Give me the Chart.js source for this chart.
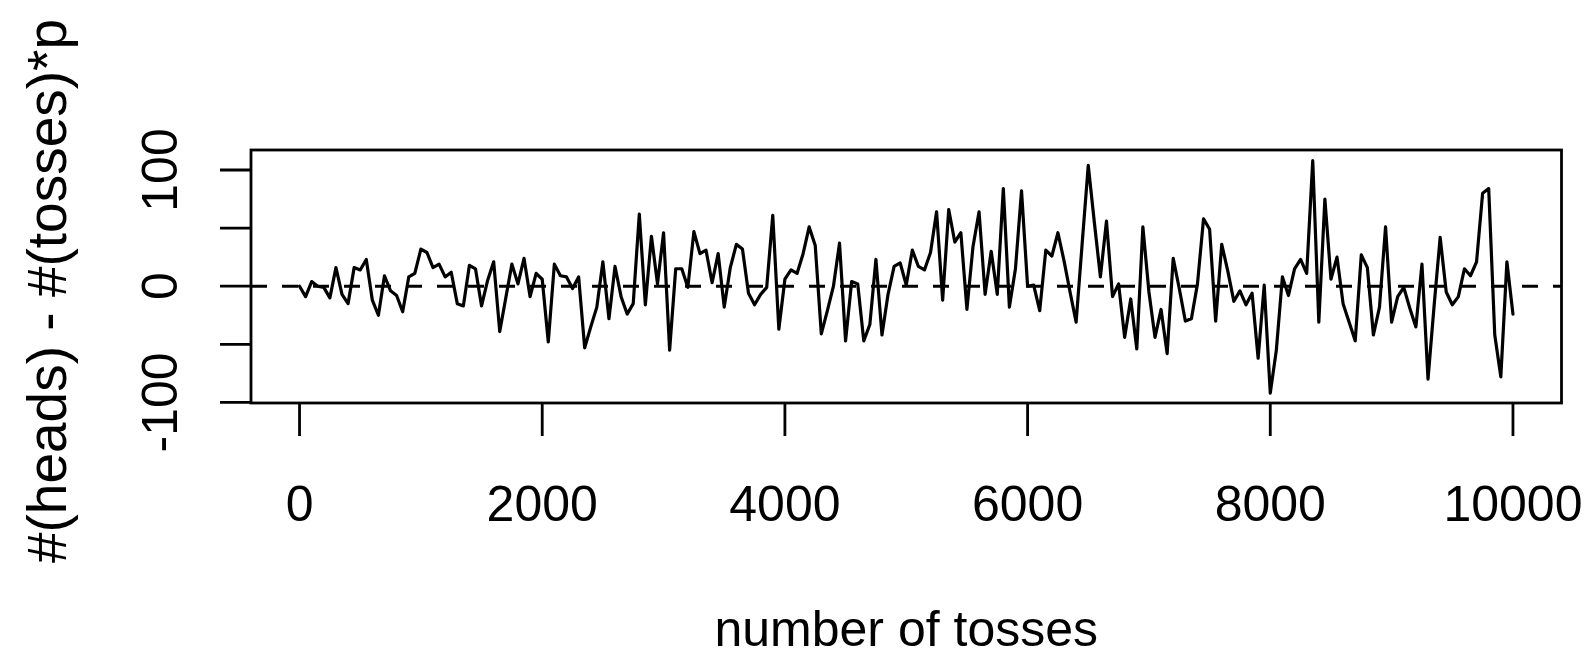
<!DOCTYPE html>
<html>
<head>
<meta charset="utf-8">
<script src="https://cdn.jsdelivr.net/npm/chart.js"></script>
<style>
  html, body { margin: 0; padding: 0; background: #fff; }
  canvas { display: block; }
</style>
</head>
<body>
<canvas id="tossChart" width="1593" height="655"></canvas>
<script>
// number of tosses (sampled every 50)
const tosses = [
  0, 50, 100, 150, 200, 250, 300, 350, 400, 450, 500, 550, 600, 650, 700, 750, 800, 850, 900, 950,
  1000, 1050, 1100, 1150, 1200, 1250, 1300, 1350, 1400, 1450, 1500, 1550, 1600, 1650, 1700, 1750, 1800, 1850, 1900, 1950,
  2000, 2050, 2100, 2150, 2200, 2250, 2300, 2350, 2400, 2450, 2500, 2550, 2600, 2650, 2700, 2750, 2800, 2850, 2900, 2950,
  3000, 3050, 3100, 3150, 3200, 3250, 3300, 3350, 3400, 3450, 3500, 3550, 3600, 3650, 3700, 3750, 3800, 3850, 3900, 3950,
  4000, 4050, 4100, 4150, 4200, 4250, 4300, 4350, 4400, 4450, 4500, 4550, 4600, 4650, 4700, 4750, 4800, 4850, 4900, 4950,
  5000, 5050, 5100, 5150, 5200, 5250, 5300, 5350, 5400, 5450, 5500, 5550, 5600, 5650, 5700, 5750, 5800, 5850, 5900, 5950,
  6000, 6050, 6100, 6150, 6200, 6250, 6300, 6350, 6400, 6450, 6500, 6550, 6600, 6650, 6700, 6750, 6800, 6850, 6900, 6950,
  7000, 7050, 7100, 7150, 7200, 7250, 7300, 7350, 7400, 7450, 7500, 7550, 7600, 7650, 7700, 7750, 7800, 7850, 7900, 7950,
  8000, 8050, 8100, 8150, 8200, 8250, 8300, 8350, 8400, 8450, 8500, 8550, 8600, 8650, 8700, 8750, 8800, 8850, 8900, 8950,
  9000, 9050, 9100, 9150, 9200, 9250, 9300, 9350, 9400, 9450, 9500, 9550, 9600, 9650, 9700, 9750, 9800, 9850, 9900, 9950,
  10000
];

// #(heads) - #(tosses)*p
const headsDiff = [
  0, -9, 4, 0, -1, -10, 16, -7, -15, 16,
  14, 23, -12, -25, 9, -4, -8, -22, 8, 11,
  32, 29, 16, 19, 8, 12, -15, -17, 18, 15,
  -17, 5, 21, -39, -10, 19, 2, 24, -9, 11,
  6, -48, 19, 9, 8, -2, 8, -53, -35, -18,
  21, -28, 17, -9, -24, -15, 62, -16, 43, 2,
  46, -55, 15, 15, -1, 47, 28, 31, 3, 28,
  -18, 16, 36, 32, -6, -16, -7, -1, 61, -37,
  6, 14, 11, 28, 51, 35, -41, -21, 0, 37,
  -47, 4, 2, -47, -33, 23, -42, -7, 17, 20,
  1, 31, 17, 14, 29, 64, -12, 66, 38, 46,
  -20, 34, 64, -7, 30, -7, 84, -18, 15, 82,
  0, 1, -21, 31, 26, 46, 22, -5, -31, 37,
  104, 55, 8, 56, -9, 2, -44, -11, -54, 51,
  -5, -44, -20, -58, 24, -2, -30, -28, 2, 58,
  49, -30, 36, 13, -13, -4, -16, -6, -62, 1,
  -92, -55, 8, -8, 15, 23, 11, 108, -31, 75,
  6, 25, -15, -31, -47, 27, 16, -42, -18, 51,
  -31, -9, -1, -19, -35, 19, -80, -17, 42, -5,
  -16, -9, 15, 9, 21, 80, 84, -42, -78, 21,
  -24
];

// axis ticks and labels
const xTicks = [0, 2000, 4000, 6000, 8000, 10000];
const yTicks = [-100, -50, 0, 50, 100];
const yLabelTicks = [-100, 0, 100];
const xMin = -400, xMax = 10400;
const yMin = -100.5, yMax = 117.2;
const refLine = [0, 0]; // dashed horizontal line at 0

const FAMILY = '"Liberation Sans", Arial, Helvetica, sans-serif';

// draws the R-style box, ticks, tick labels and axis titles
const rAxesPlugin = {
    id: 'rAxes',
    afterDraw: function (chart) {
        const ctx = chart.ctx;
        const a = chart.chartArea;
        const x = chart.scales.x;
        const y = chart.scales.y;
        ctx.save();
        ctx.strokeStyle = '#000';
        ctx.lineWidth = 2.8;
        ctx.strokeRect(a.left, a.top, a.right - a.left, a.bottom - a.top);

        ctx.beginPath();
        xTicks.forEach(function (v) {
            const px = x.getPixelForValue(v);
            ctx.moveTo(px, a.bottom);
            ctx.lineTo(px, a.bottom + 33);
        });
        yTicks.forEach(function (v) {
            const py = y.getPixelForValue(v);
            ctx.moveTo(a.left, py);
            ctx.lineTo(a.left - 31, py);
        });
        ctx.stroke();

        ctx.fillStyle = '#000';
        ctx.font = '50px ' + FAMILY;
        ctx.textAlign = 'center';
        ctx.textBaseline = 'alphabetic';
        xTicks.forEach(function (v) {
            ctx.fillText(String(v), x.getPixelForValue(v), a.bottom + 118);
        });
        ctx.fillText('number of tosses', (a.left + a.right) / 2, a.bottom + 243);

        yLabelTicks.forEach(function (v) {
            ctx.save();
            ctx.translate(a.left - 74, y.getPixelForValue(v));
            ctx.rotate(-Math.PI / 2);
            ctx.fillText(String(v), 0, 0);
            ctx.restore();
        });

        ctx.save();
        ctx.font = '55px ' + FAMILY;
        ctx.translate(66, 291);
        ctx.rotate(-Math.PI / 2);
        ctx.fillText('#(heads) - #(tosses)*p', 0, 0);
        ctx.restore();

        ctx.restore();
    }
};

const ctx = document.getElementById('tossChart').getContext('2d');
const tossChart = new Chart(ctx, {
    type: 'line',
    data: {
        datasets: [{
            data: tosses.map(function (t, i) { return { x: t, y: headsDiff[i] }; }),
            borderColor: '#000',
            borderWidth: 3.2,
            borderJoinStyle: 'round',
            borderCapStyle: 'round',
            pointRadius: 0,
            tension: 0,
            fill: false
        }, {
            data: [{ x: xMin, y: refLine[0] }, { x: xMax, y: refLine[1] }],
            borderColor: '#000',
            borderWidth: 2.9,
            borderDash: [16, 15],
            pointRadius: 0,
            fill: false
        }]
    },
    options: {
        responsive: false,
        animation: false,
        layout: {
            padding: { left: 251, right: 31.5, top: 150, bottom: 252 }
        },
        scales: {
            x: { type: 'linear', min: xMin, max: xMax, display: false },
            y: { type: 'linear', min: yMin, max: yMax, display: false }
        },
        plugins: {
            legend: { display: false },
            tooltip: { enabled: false }
        }
    },
    plugins: [rAxesPlugin]
});
</script>
</body>
</html>
